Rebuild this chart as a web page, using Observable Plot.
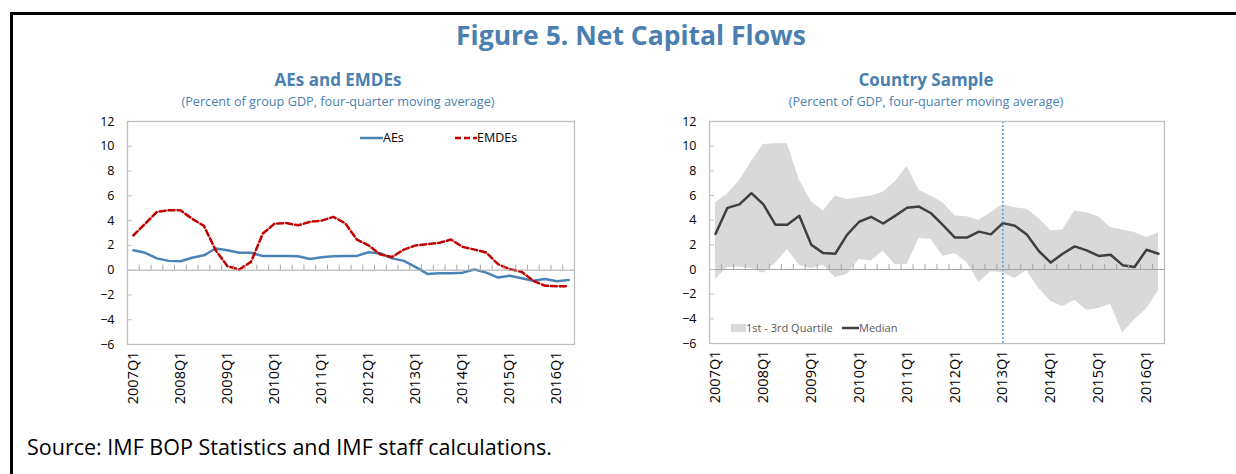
<!DOCTYPE html>
<html>
<head>
<meta charset="utf-8">
<script src="https://cdn.jsdelivr.net/npm/d3@7"></script>
<script src="https://cdn.jsdelivr.net/npm/@observablehq/plot@0.6"></script>
<style>
  html, body { margin: 0; padding: 0; background: #fff; }
  #root { position: relative; width: 1236px; height: 474px; overflow: hidden; background: #fff; font-family: "Open Sans", "Noto Sans", sans-serif; }
  #border { position: absolute; left: 10px; top: 12px; width: 1300px; height: 600px; border: 3px solid #000; box-sizing: border-box; }
  .t { position: absolute; white-space: nowrap; }
  .chart { position: absolute; }
  .leg { position: absolute; font-size: 11px; color: #595959; display: flex; align-items: center; white-space: nowrap; }
</style>
</head>
<body>
<div id="root">
  <div id="border"></div>
  <div class="t" id="title" style="left:0;width:1262px;top:17px;text-align:center;font-size:26.5px;font-weight:700;color:#4a7fb0;">Figure 5. Net Capital Flows</div>
  <div class="t" style="left:188px;width:300px;top:68px;text-align:center;font-size:17px;font-weight:700;color:#4a7fb0;">AEs and EMDEs</div>
  <div class="t" style="left:138px;width:400px;top:92px;text-align:center;font-size:12.7px;color:#4a7fb0;">(Percent of group GDP, four-quarter moving average)</div>
  <div class="t" style="left:776px;width:300px;top:68px;text-align:center;font-size:17px;font-weight:700;color:#4a7fb0;">Country Sample</div>
  <div class="t" style="left:726px;width:400px;top:92px;text-align:center;font-size:12.7px;color:#4a7fb0;">(Percent of GDP, four-quarter moving average)</div>
  <div class="t" style="left:27px;top:432px;font-size:21.5px;color:#000;">Source: IMF BOP Statistics and IMF staff calculations.</div>
  <div id="left" class="chart" style="left:0;top:100px;"></div>
  <div id="right" class="chart" style="left:600px;top:100px;"></div>
  <div class="leg" style="left:360px;top:129px;font-size:12.5px;color:#000;">
    <svg width="23" height="6"><line x1="0" y1="3" x2="23" y2="3" stroke="#4a83b5" stroke-width="2.5"/></svg><span>AEs</span>
  </div>
  <div class="leg" style="left:455px;top:129px;font-size:12.5px;color:#000;">
    <svg width="22" height="6"><line x1="0" y1="3" x2="22" y2="3" stroke="#c00000" stroke-width="2.5" stroke-dasharray="6,3"/></svg><span>EMDEs</span>
  </div>
  <div class="leg" style="left:731px;top:320px;">
    <svg width="15" height="8"><rect x="0" y="0" width="15" height="8" fill="#d9d9d9"/></svg><span>1st - 3rd Quartile</span>
  </div>
  <div class="leg" style="left:842px;top:320px;">
    <svg width="17" height="6"><line x1="0" y1="3" x2="17" y2="3" stroke="#404040" stroke-width="2.5"/></svg><span>Median</span>
  </div>
</div>
<script>
const quarters = [
  "2007Q1","2007Q2","2007Q3","2007Q4","2008Q1","2008Q2","2008Q3","2008Q4",
  "2009Q1","2009Q2","2009Q3","2009Q4","2010Q1","2010Q2","2010Q3","2010Q4",
  "2011Q1","2011Q2","2011Q3","2011Q4","2012Q1","2012Q2","2012Q3","2012Q4",
  "2013Q1","2013Q2","2013Q3","2013Q4","2014Q1","2014Q2","2014Q3","2014Q4",
  "2015Q1","2015Q2","2015Q3","2015Q4","2016Q1","2016Q2"
];
const yTicks = [-6, -4, -2, 0, 2, 4, 6, 8, 10, 12];
const xTickLabels = ["2007Q1","2008Q1","2009Q1","2010Q1","2011Q1","2012Q1","2013Q1","2014Q1","2015Q1","2016Q1"];

const aes = [1.6, 1.4, 0.95, 0.75, 0.72, 1.0, 1.2, 1.75, 1.6, 1.4, 1.4, 1.15, 1.15, 1.15, 1.12, 0.9,
  1.05, 1.12, 1.15, 1.15, 1.45, 1.35, 0.95, 0.75, 0.25, -0.3, -0.25, -0.25, -0.2, 0.05, -0.2, -0.6,
  -0.45, -0.65, -0.85, -0.72, -0.9, -0.8];
const emdes = [2.8, 3.75, 4.7, 4.83, 4.83, 4.15, 3.57, 1.6, 0.32, 0.05, 0.67, 2.95, 3.75, 3.8, 3.62, 3.9,
  4.0, 4.3, 3.8, 2.47, 2.0, 1.26, 1.07, 1.66, 2.0, 2.1, 2.2, 2.47, 1.88, 1.66, 1.42, 0.48,
  0.08, -0.13, -0.86, -1.26, -1.29, -1.29];

const median = [2.88, 5.0, 5.28, 6.2, 5.28, 3.63, 3.63, 4.35, 2.0, 1.33, 1.28, 2.83, 3.87, 4.27, 3.73, 4.35,
  5.0, 5.1, 4.56, 3.6, 2.59, 2.59, 3.07, 2.85, 3.76, 3.55, 2.83, 1.5, 0.56, 1.28, 1.87, 1.55,
  1.1, 1.2, 0.35, 0.21, 1.6, 1.28];
const quartile3 = [5.41, 6.13, 7.2, 8.75, 10.13, 10.19, 10.19, 7.28, 5.5, 4.75, 5.95, 5.68, 5.81, 5.95, 6.27, 7.1,
  8.35, 6.43, 5.95, 5.41, 4.35, 4.27, 4.0, 4.61, 5.28, 5.0, 4.88, 4.16, 3.15, 3.2, 4.75, 4.61,
  4.27, 3.41, 3.2, 3.0, 2.6, 2.96];
const quartile1 = [-0.81, 0.16, 0.2, 0.08, -0.3, 0.49, 1.62, 0.35, 0.08, 0.35, -0.65, -0.4, 0.81, 0.68, 1.49, 0.4,
  0.4, 2.51, 2.46, 1.08, 1.3, 0.57, -1.05, -0.19, -0.27, -0.73, -0.1, -1.54, -2.57, -3.03, -2.49, -3.3,
  -3.16, -2.81, -5.14, -4.1, -3.2, -1.73];
const verticalMarker = "2013Q1";

const rows = quarters.map((q, i) => ({
  i, q, aes: aes[i], emdes: emdes[i], median: median[i], lo: quartile1[i], hi: quartile3[i]
}));
const boundaries = d3.range(quarters.length + 1).map(k => k - 0.5);
const xTickIdx = xTickLabels.map(l => quarters.indexOf(l));
const font = '"Open Sans", "Noto Sans", sans-serif';

function baseMarks() {
  return [
    Plot.ruleY([0], {stroke: "#a6a6a6", strokeWidth: 1}),
    Plot.ruleX(boundaries, {x: d => d, y1: 0, y2: 0.4, stroke: "#a6a6a6", strokeWidth: 1}),
    Plot.ruleY(yTicks, {y: d => d, x1: -0.5, x2: -0.1, stroke: "#bfbfbf", strokeWidth: 1}),
    Plot.axisY(yTicks, {anchor: "left", tickSize: 0, tickPadding: 13, fontSize: 12.5, fill: "#000", label: null}),
    Plot.axisX(xTickIdx, {anchor: "bottom", tickSize: 0, tickPadding: 7, tickRotate: -90,
      tickFormat: i => quarters[i], fontSize: 14.5, fill: "#000", label: null})
  ];
}

function makeChart(opts, marks) {
  return Plot.plot({
    width: 600,
    height: opts.height,
    marginLeft: opts.ml, marginRight: opts.mr, marginTop: opts.mt, marginBottom: opts.mb,
    style: {fontFamily: font, fontSize: "12px", background: "transparent", color: "#000", overflow: "visible"},
    x: {type: "linear", domain: [-0.5, quarters.length - 0.5], axis: null, label: null},
    y: {type: "linear", domain: [-6, 12], axis: null, label: null},
    marks: [...marks, ...baseMarks(), Plot.frame({stroke: "#bfbfbf", strokeWidth: 1.3})]
  });
}

const left = makeChart({height: 314, ml: 127, mr: 26, mt: 21, mb: 70}, [
  Plot.line(rows, {x: "i", y: "aes", stroke: "#4a83b5", strokeWidth: 2.5}),
  Plot.line(rows, {x: "i", y: "emdes", stroke: "#c00000", strokeWidth: 2.5, strokeDasharray: "6,3"})
]);
document.getElementById("left").appendChild(left);

const right = makeChart({height: 314, ml: 109, mr: 36, mt: 21, mb: 71}, [
  Plot.areaY(rows, {x: "i", y1: "lo", y2: "hi", fill: "#d9d9d9"}),
  Plot.line(rows, {x: "i", y: "median", stroke: "#404040", strokeWidth: 2.5}),
  Plot.ruleX([quarters.indexOf(verticalMarker)], {x: d => d, stroke: "#5b9bd5", strokeWidth: 1.5, strokeDasharray: "2,2"})
]);
document.getElementById("right").appendChild(right);
</script>
</body>
</html>
